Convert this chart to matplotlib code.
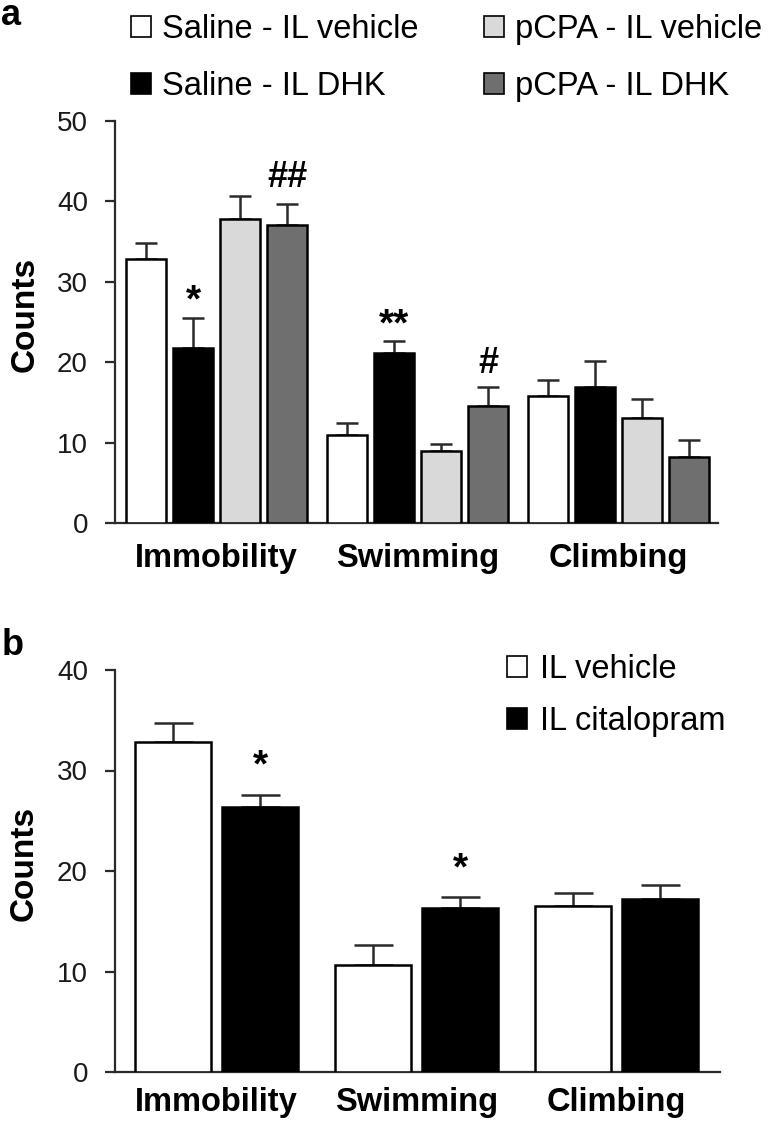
import matplotlib
matplotlib.use('Agg')
import matplotlib.pyplot as plt
from matplotlib.patches import Patch
import numpy as np

plt.rcParams['font.family'] = ['Liberation Sans', 'DejaVu Sans']

# ---------------- data ----------------
categories = ['Immobility', 'Swimming', 'Climbing']

# panel a
labels_a = ['Saline - IL vehicle', 'Saline - IL DHK', 'pCPA - IL vehicle', 'pCPA - IL DHK']
saline_vehicle_mean = [32.8, 10.9, 15.8]
saline_vehicle_sem = [2.0, 1.6, 2.0]
saline_dhk_mean = [21.8, 21.1, 16.95]
saline_dhk_sem = [3.7, 1.5, 3.15]
pcpa_vehicle_mean = [37.8, 8.9, 13.1]
pcpa_vehicle_sem = [2.9, 0.9, 2.3]
pcpa_dhk_mean = [37.1, 14.5, 8.25]
pcpa_dhk_sem = [2.6, 2.45, 2.05]
# significance marks panel a: (series index, category index, text)
marks_a = [(1, 0, '*'), (3, 0, '##'), (1, 1, '**'), (3, 1, '#')]

# panel b
labels_b = ['IL vehicle', 'IL citalopram']
il_vehicle_mean = [32.8, 10.6, 16.5]
il_vehicle_sem = [1.9, 2.0, 1.3]
il_citalopram_mean = [26.4, 16.3, 17.2]
il_citalopram_sem = [1.2, 1.1, 1.4]
marks_b = [(1, 0, '*'), (1, 1, '*')]

yticks_a = [0, 10, 20, 30, 40, 50]
yticks_b = [0, 10, 20, 30, 40]

# ---------------- style ----------------
W, H = 777, 1125
def fx(px):
    return px / W
def fy(py):
    return 1 - py / H
def px2pt(p):
    return p * 72.0 / 100.0

colors_a = ['white', 'black', '#d9d9d9', '#6f6f6f']
colors_b = ['white', 'black']
AXC = '#2a2a2a'

fig = plt.figure(figsize=(W / 100, H / 100), dpi=100)
fig.patch.set_facecolor('white')

ax_a = fig.add_axes([fx(115), fy(523), (718 - 115) / W, (523 - 121) / H])
ax_b = fig.add_axes([fx(115), fy(1072), (720 - 115) / W, (1072 - 670) / H])


def style_axis(ax, yticks, ymax, pad_x):
    for s in ['top', 'right']:
        ax.spines[s].set_visible(False)
    for s in ['left', 'bottom']:
        ax.spines[s].set_linewidth(1.6)
        ax.spines[s].set_color(AXC)
    ax.set_ylim(0, ymax)
    ax.set_yticks(yticks)
    ax.tick_params(axis='y', length=px2pt(10), width=1.6, color=AXC,
                   pad=px2pt(17), labelsize=20, labelcolor='#1a1a1a')
    ax.tick_params(axis='x', length=0, pad=pad_x)
    ax.set_ylabel('Counts', fontsize=24, fontweight='bold')
    ax.yaxis.set_label_coords(-0.124, 0.52)


def draw_panel(ax, means, sems, colors, width, group_step, capsize, marks, mark_gap):
    n = len(means)
    bars_top = {}
    for i, (m, e, c) in enumerate(zip(means, sems, colors)):
        x = np.arange(len(categories)) * group_step + i
        ax.errorbar(x, m, yerr=[np.zeros(len(m)), e], fmt='none', ecolor=AXC,
                    elinewidth=1.8, capsize=capsize, capthick=1.8, zorder=2)
        ax.bar(x, m, width=width, color=c, edgecolor='black', linewidth=1.8, zorder=3)
        for k in range(len(categories)):
            bars_top[(i, k)] = (x[k], m[k] + e[k])
    ax.set_xticks(np.arange(len(categories)) * group_step + (n - 1) / 2)
    ax.set_xticklabels(categories, fontsize=23.5, fontweight='bold')
    for (i, k, t) in marks:
        xx, yy = bars_top[(i, k)]
        gap = mark_gap.get(t, 10)
        ax.annotate(t, xy=(xx, yy), xytext=(0, px2pt(gap)), textcoords='offset points',
                    ha='center', va='bottom', fontsize=28 if '*' in t else 26,
                    fontweight='bold', color='black', zorder=5)


# panel a
step_a = 201 / 47
draw_panel(ax_a,
           [saline_vehicle_mean, saline_dhk_mean, pcpa_vehicle_mean, pcpa_dhk_mean],
           [saline_vehicle_sem, saline_dhk_sem, pcpa_vehicle_sem, pcpa_dhk_sem],
           colors_a, 0.87, step_a, px2pt(11.5), marks_a,
           {'*': -2, '**': -2, '#': 6, '##': 9})
ax_a.set_xlim(-31 / 47, (718 - 146) / 47)
style_axis(ax_a, yticks_a, 50, px2pt(20))

handles_a = [Patch(facecolor=c, edgecolor='black', linewidth=1.2) for c in colors_a]
ax_a.legend(handles_a, labels_a, ncol=2, loc='upper left',
            bbox_to_anchor=(fx(131), fy(14)), bbox_transform=fig.transFigure,
            frameon=False, fontsize=23.5, handlelength=0.62, handleheight=0.62,
            handletextpad=0.34, columnspacing=2.0, labelspacing=0.8,
            borderpad=0, borderaxespad=0)

# panel b
step_b = 200 / 87
draw_panel(ax_b, [il_vehicle_mean, il_citalopram_mean],
           [il_vehicle_sem, il_citalopram_sem],
           colors_b, 0.875, step_b, px2pt(19.5), marks_b, {'*': 10})
ax_b.set_xlim(-58 / 87, (720 - 173) / 87)
style_axis(ax_b, yticks_b, 40, px2pt(15))

handles_b = [Patch(facecolor=c, edgecolor='black', linewidth=1.2) for c in colors_b]
ax_b.legend(handles_b, labels_b, ncol=1, loc='upper left',
            bbox_to_anchor=(fx(507), fy(654)), bbox_transform=fig.transFigure,
            frameon=False, fontsize=23.5, handlelength=0.62, handleheight=0.62,
            handletextpad=0.4, labelspacing=0.64, borderpad=0, borderaxespad=0)

fig.text(fx(1), fy(25), 'a', fontsize=26, fontweight='bold', va='baseline', ha='left')
fig.text(fx(2), fy(655), 'b', fontsize=26, fontweight='bold', va='baseline', ha='left')

fig.savefig('out.png', dpi=100, facecolor='white')
